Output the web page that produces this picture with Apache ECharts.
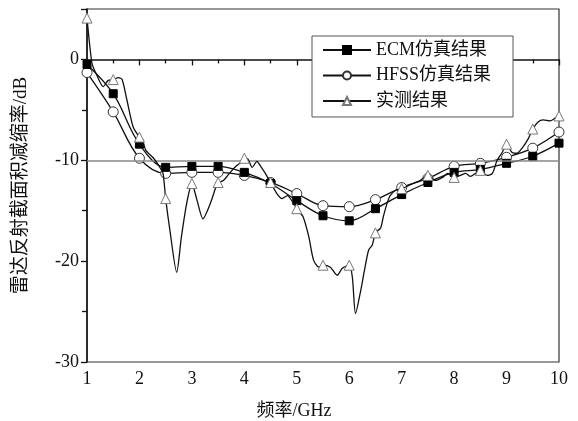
<!DOCTYPE html>
<html>
<head>
<meta charset="utf-8">
<script src="https://cdn.jsdelivr.net/npm/echarts@6/dist/echarts.min.js"></script>
<style>
  html, body { margin: 0; padding: 0; background: #fff; }
  #chart { width: 578px; height: 421px; }
</style>
</head>
<body>
<div id="chart"></div>
<script>
// Frequency grid of the simulated / marked points (GHz)
const freqs = [1, 1.5, 2, 2.5, 3, 3.5, 4, 4.5, 5, 5.5, 6, 6.5, 7, 7.5, 8, 8.5, 9, 9.5, 10];

// RCS reduction, dB
const ecmSim = [-0.5, -3.4, -8.4, -10.7, -10.6, -10.6, -11.2, -12.3, -14.0, -15.5, -16.0, -14.8, -13.4, -12.2, -11.2, -10.9, -10.3, -9.6, -8.3];
const hfssSim = [-1.3, -5.2, -9.8, -11.3, -11.2, -11.2, -11.5, -12.2, -13.3, -14.5, -14.6, -13.9, -12.7, -11.8, -10.6, -10.3, -9.7, -8.8, -7.2];
const measuredMarks = [4.1, -2.0, -7.7, -13.8, -12.3, -12.2, -9.8, -12.2, -14.8, -20.4, -20.4, -17.2, -12.8, -11.5, -11.7, -11.0, -8.4, -6.9, -5.6];

// Measured sweep between the marked points
const measuredFreq = [1.05, 1.10, 1.19, 1.31, 1.40, 1.60, 1.67, 1.76, 1.88, 2.06, 2.12, 2.27, 2.39, 2.45,
  2.58, 2.71, 2.80, 2.90, 3.10, 3.21, 3.35, 3.48, 3.60, 3.73, 3.86, 3.96, 4.07, 4.15, 4.24, 4.30, 4.40,
  4.62, 4.72, 4.82, 4.93, 5.12, 5.23, 5.32, 5.42, 5.64, 5.77, 5.87, 6.06, 6.12, 6.22, 6.28, 6.37, 6.44,
  6.60, 6.65, 6.72, 6.78, 6.88, 7.10, 7.22, 7.35, 7.65, 7.78, 7.88, 8.12, 8.22, 8.31, 8.41, 8.63, 8.73,
  8.82, 8.92, 9.10, 9.20, 9.31, 9.42, 9.60, 9.70, 9.83, 9.93];
const measuredSweep = [1.5, -0.5, -1.6, -2.7, -2.1, -1.8, -2.0, -4.0, -6.7, -8.0, -9.0, -9.8, -10.7, -11.3,
  -16.9, -21.1, -17.6, -14.3, -14.0, -15.8, -14.3, -12.3, -12.0, -11.2, -10.5, -10.1, -9.9, -10.7, -10.1, -10.5, -11.3,
  -13.3, -13.8, -13.5, -14.2, -15.6, -17.6, -19.9, -20.6, -20.6, -21.4, -20.7, -21.6, -25.2, -22.9, -21.2, -18.9, -18.4,
  -16.7, -15.6, -14.3, -13.5, -13.0, -12.6, -12.3, -12.0, -12.0, -11.7, -11.3, -11.5, -11.3, -11.6, -11.3, -11.5, -11.3,
  -10.0, -9.2, -9.2, -9.3, -8.7, -7.8, -6.2, -6.0, -6.1, -5.8];

// Axis ticks
const xTicks = [1, 2, 3, 4, 5, 6, 7, 8, 9, 10];
const yTicks = [-30, -20, -10, 0];
const refLevel = -10;

const serifFont = '"Liberation Serif", "Times New Roman", "Noto Sans CJK SC", serif';

const pairs = (xs, ys) => xs.map((x, i) => [x, ys[i]]);

// Merge the sweep and the marked points; only marked points carry a triangle
const measuredData = pairs(freqs, measuredMarks).map(p => ({ value: p }))
  .concat(pairs(measuredFreq, measuredSweep).map(p => ({ value: p, symbol: 'none' })))
  .sort((a, b) => a.value[0] - b.value[0]);

const chart = echarts.init(document.getElementById('chart'), null, { renderer: 'canvas' });

const axisLine = { show: true, lineStyle: { color: '#111', width: 1.5 } };
const labelStyle = { fontFamily: serifFont, fontSize: 18, color: '#111' };

chart.setOption({
  animation: false,
  backgroundColor: '#fff',
  grid: {
    left: 87, right: 19, top: 9, bottom: 59,
    outerBoundsMode: 'none',
    containLabel: false,
    show: true, borderColor: '#333', borderWidth: 1.2
  },
  legend: {
    orient: 'vertical',
    left: 312, top: 36,
    padding: [5, 22, 7, 10],
    itemGap: 7.5,
    itemWidth: 48, itemHeight: 10,
    borderColor: '#555', borderWidth: 1,
    backgroundColor: '#fff',
    textStyle: { fontFamily: serifFont, fontSize: 18, color: '#111' },
    data: ['ECM仿真结果', 'HFSS仿真结果', '实测结果']
  },
  xAxis: {
    type: 'value',
    min: xTicks[0], max: xTicks[xTicks.length - 1], interval: 1,
    name: '频率/GHz',
    nameLocation: 'middle',
    nameGap: 40,
    nameTextStyle: { fontFamily: serifFont, fontSize: 18, color: '#111', padding: [0, 58, 0, 0] },
    axisLine: axisLine,
    axisTick: { show: true, length: 6, lineStyle: { color: '#111', width: 1.3 } },
    minorTick: { show: true, splitNumber: 2, length: 4, lineStyle: { color: '#111', width: 1.3 } },
    axisLabel: Object.assign({ margin: 8, formatter: v => xTicks.includes(v) ? String(v) : '' }, labelStyle),
    splitLine: { show: false }
  },
  yAxis: {
    type: 'value',
    min: yTicks[0], max: 5, interval: 10,
    name: '雷达反射截面积减缩率/dB',
    nameLocation: 'middle',
    nameRotate: 90,
    nameGap: 56,
    nameTextStyle: { fontFamily: serifFont, fontSize: 19, color: '#111' },
    axisLine: axisLine,
    axisTick: { show: true, length: 6, lineStyle: { color: '#111', width: 1.3 } },
    minorTick: { show: true, splitNumber: 2, length: 5, lineStyle: { color: '#111', width: 1.3 } },
    axisLabel: Object.assign({ margin: 8, showMaxLabel: false, formatter: v => yTicks.includes(v) ? String(v) : '' }, labelStyle),
    splitLine: { show: false }
  },
  series: [
    {
      name: 'ECM仿真结果',
      type: 'line',
      data: pairs(freqs, ecmSim),
      smooth: 0.35,
      symbol: 'rect', symbolSize: 8,
      lineStyle: { color: '#111', width: 1.3 },
      itemStyle: { color: '#000', borderColor: '#000', borderWidth: 1 },
      z: 4,
      markLine: {
        silent: true,
        symbol: 'none',
        label: { show: false },
        lineStyle: { color: '#888', width: 1.5, type: 'solid' },
        data: [{ yAxis: refLevel }]
      }
    },
    {
      name: 'HFSS仿真结果',
      type: 'line',
      data: pairs(freqs, hfssSim),
      smooth: 0.35,
      symbol: 'circle', symbolSize: 10,
      lineStyle: { color: '#111', width: 1.3 },
      itemStyle: { color: '#fff', borderColor: '#333', borderWidth: 1 },
      z: 3
    },
    {
      name: '实测结果',
      type: 'line',
      data: measuredData,
      smooth: 0.25,
      symbol: 'triangle', symbolSize: 10,
      showAllSymbol: true,
      lineStyle: { color: '#111', width: 1.3 },
      itemStyle: { color: '#fff', borderColor: '#777', borderWidth: 1 },
      z: 5
    }
  ]
});
</script>
</body>
</html>
